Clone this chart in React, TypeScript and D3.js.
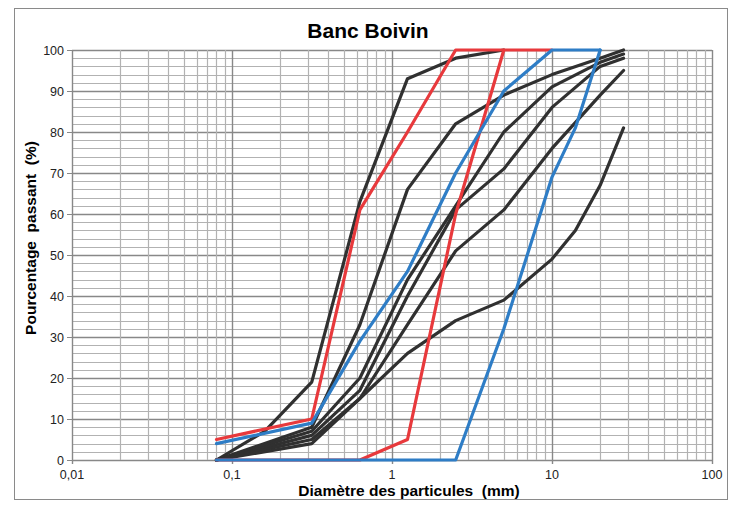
import React, { useEffect, useRef } from 'react';
import * as d3 from 'd3';

// sieve openings (mm) and % passing, null where the sample has no reading
const sieves = [0.08, 0.16, 0.315, 0.63, 1.25, 2.5, 5, 10, 14, 20, 28];

const blackCurves = [
  [0, 7, 19, 63, 93, 98, 100, null, null, null, null],
  [0, null, 8, 33, 66, 82, 89, 94, null, 98, 100],
  [0, null, 7, 20, 44, 62, 80, 91, null, 97, 99],
  [0, null, 6, 17, 40, 61, 71, 86, null, 96, 98],
  [0, null, 5, 15, 33, 51, 61, 76, null, 89, 95],
  [0, null, 4, 15, 26, 34, 39, 49, 56, 67, 81],
];
const redCurves = [
  [5, null, 10, 61, 80, 100, 100, null, null, null, null],
  [0, null, 0, 0, 5, 60, 100, 100, null, null, null],
];
const blueCurves = [
  [4, null, 9, 29, 46, 70, 90, 100, null, 100, null],
  [0, null, 0, 0, 0, 0, 32, 69, 81, 100, null],
];

const xTicks = [0.01, 0.1, 1, 10, 100];
const xTickLabels = ['0,01', '0,1', '1', '10', '100'];
const yTicks = [0, 10, 20, 30, 40, 50, 60, 70, 80, 90, 100];

export default function App() {
  const ref = useRef<SVGSVGElement>(null);

  useEffect(() => {
    const svg = d3.select(ref.current);
    svg.selectAll('*').remove();

    const x = d3.scaleLog().domain([0.01, 100]).range([72, 712]);
    const y = d3.scaleLinear().domain([0, 100]).range([460, 50]);

    // chart frame
    svg.append('rect')
      .attr('x', 14.5).attr('y', 8.5).attr('width', 713).attr('height', 491)
      .attr('fill', '#fff').attr('stroke', '#8a8a8a');

    // horizontal grid, every 2 %
    const g = svg.append('g');
    d3.range(0, 101, 2).forEach(v => {
      const major = v % 10 === 0;
      g.append('line')
        .attr('x1', 72).attr('x2', 712)
        .attr('y1', Math.round(y(v)) + 0.5).attr('y2', Math.round(y(v)) + 0.5)
        .attr('stroke', major ? '#888' : '#b2b2b2')
        .attr('stroke-width', major ? 1.4 : 1.2);
    });

    // vertical log grid
    const minors: number[] = [];
    [0.01, 0.1, 1, 10].forEach(d => { for (let k = 2; k <= 9; k++) minors.push(d * k); });
    minors.forEach(v => {
      g.append('line')
        .attr('x1', Math.round(x(v)) + 0.5).attr('x2', Math.round(x(v)) + 0.5)
        .attr('y1', 50).attr('y2', 460)
        .attr('stroke', '#b2b2b2').attr('stroke-width', 1.2);
    });
    xTicks.forEach(v => {
      g.append('line')
        .attr('x1', Math.round(x(v)) + 0.5).attr('x2', Math.round(x(v)) + 0.5)
        .attr('y1', 50).attr('y2', 464)
        .attr('stroke', '#888').attr('stroke-width', 1.4);
    });

    // axis ticks and labels
    yTicks.forEach(v => {
      g.append('line')
        .attr('x1', 67).attr('x2', 72)
        .attr('y1', Math.round(y(v)) + 0.5).attr('y2', Math.round(y(v)) + 0.5)
        .attr('stroke', '#888');
      svg.append('text')
        .attr('x', 64).attr('y', y(v) + 4.5)
        .attr('text-anchor', 'end')
        .style('font', '12.5px "Liberation Sans", Arial, sans-serif')
        .attr('fill', '#222')
        .text(v);
    });
    xTicks.forEach((v, i) => {
      svg.append('text')
        .attr('x', x(v)).attr('y', 479)
        .attr('text-anchor', 'middle')
        .style('font', '12.5px "Liberation Sans", Arial, sans-serif')
        .attr('fill', '#222')
        .text(xTickLabels[i]);
    });

    // grading curves
    const line = d3.line<[number, number]>()
      .x(d => x(d[0]))
      .y(d => y(d[1]));

    const draw = (curves: (number | null)[][], color: string) => {
      curves.forEach(c => {
        const pts = sieves
          .map((s, i) => [s, c[i]] as [number, number | null])
          .filter(p => p[1] !== null) as [number, number][];
        svg.append('path')
          .attr('d', line(pts))
          .attr('fill', 'none')
          .attr('stroke', color)
          .attr('stroke-width', 3.2)
          .attr('stroke-linejoin', 'round')
          .attr('stroke-linecap', 'round');
      });
    };
    draw(blackCurves, '#303030');
    draw(redCurves, '#e8393c');
    draw(blueCurves, '#2e7dc6');

    // titles
    svg.append('text')
      .attr('x', 368).attr('y', 38)
      .attr('text-anchor', 'middle')
      .style('font', 'bold 21px "Liberation Sans", Arial, sans-serif')
      .text('Banc Boivin');

    svg.append('text')
      .attr('x', 409).attr('y', 496)
      .attr('text-anchor', 'middle')
      .style('font', 'bold 15.5px "Liberation Sans", Arial, sans-serif')
      .style('white-space', 'pre')
      .text('Diamètre des particules  (mm)');

    svg.append('text')
      .attr('transform', 'translate(36, 238) rotate(-90)')
      .attr('text-anchor', 'middle')
      .style('font', 'bold 15.5px "Liberation Sans", Arial, sans-serif')
      .style('white-space', 'pre')
      .text('Pourcentage  passant  (%)');
  }, []);

  return (
    <div style={{ position: 'absolute', left: 0, top: 0 }}>
      <svg ref={ref} width={735} height={508} style={{ display: 'block' }}></svg>
    </div>
  );
}
